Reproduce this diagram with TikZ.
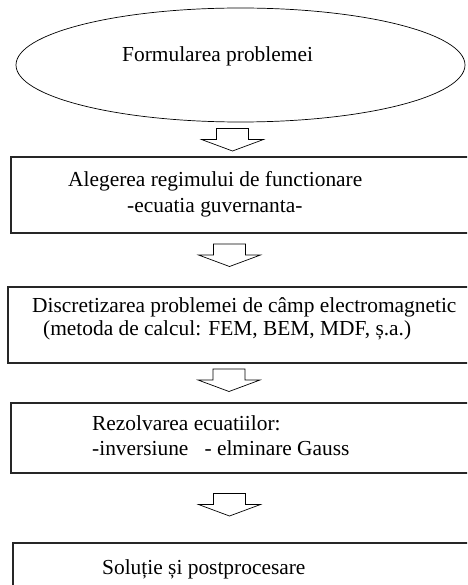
\documentclass[tikz,border=0pt]{standalone}
\usepackage{fontspec}
\setmainfont{Liberation Serif}
\usetikzlibrary{shapes.geometric}

\tikzset{
  stage/.style={draw=black!85, line width=1.3pt, minimum width=469pt, inner sep=0pt},
  label/.style={anchor=base west, inner sep=0pt, font=\fontsize{21.4}{24}\selectfont},
  hollow/.style={draw, line width=0.7pt, line join=miter}
}
\newcommand{\hollowarrow}[1]{\draw[hollow] (#1) ++(-16,0) -- ++(32,0) -- ++(0,11) -- ++(15,0) -- ++(-31,11.5) -- ++(-31,-11.5) -- ++(15,0) -- cycle;}

\begin{document}
\begin{tikzpicture}[x=1pt,y=-1pt]
\useasboundingbox (0,0) rectangle (467,585);
\clip (0,0) rectangle (467,585);

\node[draw, ellipse, line width=0.7pt, minimum width=449pt, minimum height=114pt, inner sep=0pt] (start) at (240.5,65) {};
\node[label] (starttxt) at (122,61.5) {Formularea problemei};

\coordinate (a1) at (232.5,128.5);
\hollowarrow{a1}

\node[stage, minimum height=76pt] (regim) at (245.5,195) {};
\node[label] (regim1) at (68,186.5) {Alegerea regimului de functionare};
\node[label] (regim2) at (127,212.5) {-ecuatia guvernanta-};

\coordinate (a2) at (229.5,244);
\hollowarrow{a2}

\node[stage, minimum width=472pt, minimum height=76pt] (discret) at (244,325) {};
\node[label] (discret1) at (32,312) {Discretizarea problemei de câmp electromagnetic};
\node[label] (discret2) at (43,335.5) {(metoda de calcul: FEM, BEM, MDF, ș.a.)};

\coordinate (a3) at (229,369);
\hollowarrow{a3}

\node[stage, minimum height=70pt] (rezolv) at (245.5,438) {};
\node[label] (rezolv1) at (92,430) {Rezolvarea ecuatiilor:};
\node[label] (rezolv2) at (92,455.5) {-inversiune \ \ - elminare Gauss};

\coordinate (a4) at (229.5,493.5);
\hollowarrow{a4}

\node[stage, minimum width=467pt, minimum height=77pt] (solutie) at (246.5,581.5) {};
\node[label] (solutie1) at (102,574) {Soluție și postprocesare};

\end{tikzpicture}
\end{document}
